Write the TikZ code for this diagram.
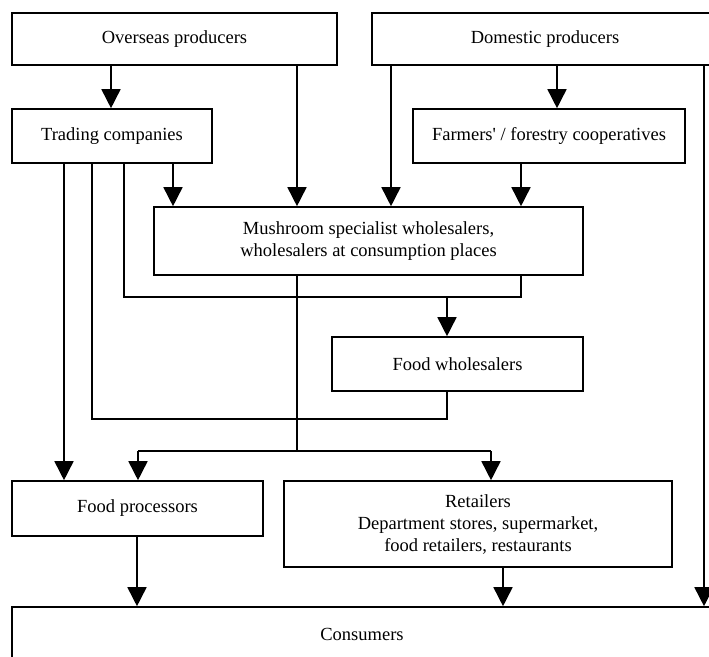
\documentclass[tikz,border=0pt]{standalone}
\usepackage{fontspec}
\setmainfont{Liberation Serif}
\usetikzlibrary{arrows.meta}
\begin{document}
\begin{tikzpicture}[x=1pt,y=-1pt,
  box/.style={draw,line width=1.6pt,rectangle,inner sep=0pt,align=center,
    font=\fontsize{18.5}{22}\selectfont},
  conn/.style={line width=1.6pt},
  arr/.style={line width=1.6pt,-{Triangle[length=19pt,width=19pt]}}]
\useasboundingbox (0,0) rectangle (709,656);
% boxes
\node[box,minimum width=325pt,minimum height=52pt] (over) at (174.5,39) {Overseas producers};
\node[box,minimum width=346pt,minimum height=52pt] (dom) at (545,39) {Domestic producers};
\node[box,minimum width=200pt,minimum height=54pt] (trad) at (112,136) {Trading companies};
\node[box,minimum width=272pt,minimum height=54pt] (farm) at (549,136) {Farmers\textquotesingle{} / forestry cooperatives};
\node[box,minimum width=429pt,minimum height=68pt] (mush) at (368.5,241) {Mushroom specialist wholesalers,\\wholesalers at consumption places};
\node[box,minimum width=251pt,minimum height=54pt] (fw) at (457.5,364) {Food wholesalers};
\node[box,minimum width=251pt,minimum height=55pt] (fp) at (137.5,508.5) {Food processors};
\node[box,minimum width=388pt,minimum height=86pt] (ret) at (478,524) {Retailers\\Department stores, supermarket,\\food retailers, restaurants};
\node[box,minimum width=700pt,minimum height=54pt] (cons) at (362,634) {Consumers};
% x positions
\coordinate (x64) at (64,0);
\coordinate (x92) at (92,0);
\coordinate (x111) at (111,0);
\coordinate (x124) at (124,0);
\coordinate (x137) at (137,0);
\coordinate (x173) at (173,0);
\coordinate (x297) at (297,0);
\coordinate (x391) at (391,0);
\coordinate (x447) at (447,0);
\coordinate (x491) at (491,0);
\coordinate (x503) at (503,0);
\coordinate (x521) at (521,0);
\coordinate (x557) at (557,0);
\coordinate (x704) at (704,0);
% junction rows
\coordinate (j1) at (124,297);
\coordinate (j2) at (521,297);
\coordinate (j3) at (447,297);
\coordinate (j4) at (92,419);
\coordinate (j5) at (447,419);
\coordinate (j6) at (297,451);
\coordinate (j7) at (138,451);
\coordinate (j8) at (491,451);
% connectors
\draw[arr] (over.south -| x111) -- (trad.north -| x111);
\draw[arr] (over.south -| x297) -- (mush.north -| x297);
\draw[arr] (dom.south -| x391) -- (mush.north -| x391);
\draw[arr] (dom.south -| x557) -- (farm.north -| x557);
\draw[arr] (dom.south -| x704) -- (cons.north -| x704);
\draw[arr] (trad.south -| x64) -- (fp.north -| x64);
\draw[conn] (trad.south -| x92) -- (j4) -- (j5) -- (fw.south -| x447);
\draw[conn] (trad.south -| x124) -- (j1) -- (j2) -- (mush.south -| x521);
\draw[arr] (trad.south -| x173) -- (mush.north -| x173);
\draw[arr] (farm.south -| x521) -- (mush.north -| x521);
\draw[arr] (j3) -- (fw.north -| x447);
\draw[conn] (mush.south -| x297) -- (j6);
\draw[conn] (j7) -- (j8);
\draw[arr] (j7) -- (fp.north -| j7);
\draw[arr] (j8) -- (ret.north -| j8);
\draw[arr] (fp.south -| x137) -- (cons.north -| x137);
\draw[arr] (ret.south -| x503) -- (cons.north -| x503);
\end{tikzpicture}
\end{document}
